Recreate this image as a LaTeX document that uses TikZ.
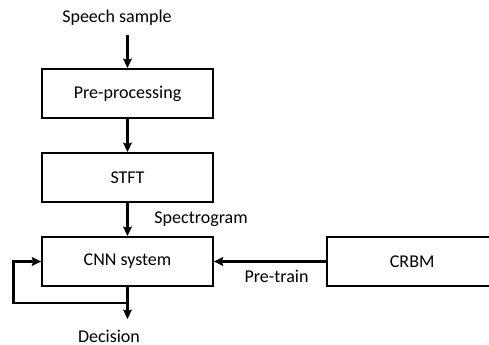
\documentclass[tikz,border=0pt]{standalone}
\usepackage{fontspec}
\setmainfont{Carlito}
\usetikzlibrary{arrows.meta, positioning}

\begin{document}
\begin{tikzpicture}[
    x=0.75pt, y=-0.75pt,
    block/.style={rectangle, draw, line width=1.5pt, minimum width=128pt,
                  minimum height=36.75pt, font=\fontsize{13.5}{16}\selectfont},
    txt/.style={font=\fontsize{13.5}{16}\selectfont},
    arrow/.style={-{Stealth[length=7pt, width=6.5pt, inset=1pt]}, line width=1.8pt},
]
\useasboundingbox (0,0) rectangle (489,345);

% Blocks
\node[block] (pre) at (127.5,93.5) {Pre-processing};
\node[block, below=24.75pt of pre] (stft) {STFT};
\node[block, below=24.75pt of stft] (cnn) {CNN system};
\node[block, right=84pt of cnn] (crbm) {CRBM};

% Input and output
\node[txt] (speech) at (117,18) {Speech sample};
\node[txt] (dec) at (109,336) {Decision};
\coordinate[below=12pt of cnn.south] (fb);
\coordinate[below=24pt of cnn.south] (out);

% Flow arrows
\draw[arrow] (speech.south -| pre.north) ++(0,5) -- (pre.north);
\draw[arrow] (pre.south) -- (stft.north);
\draw[arrow] (stft.south) -- (cnn.north) node[midway, right=16pt, txt] {Spectrogram};
\draw[arrow] (crbm.west) -- (cnn.east) node[pos=0.44, below=2pt, txt] {Pre-train};

% Feedback loop
\draw[arrow] (cnn.south) -- (out);
\draw[arrow] (fb) -- ++(-114,0) |- (cnn.west);

\end{tikzpicture}
\end{document}
